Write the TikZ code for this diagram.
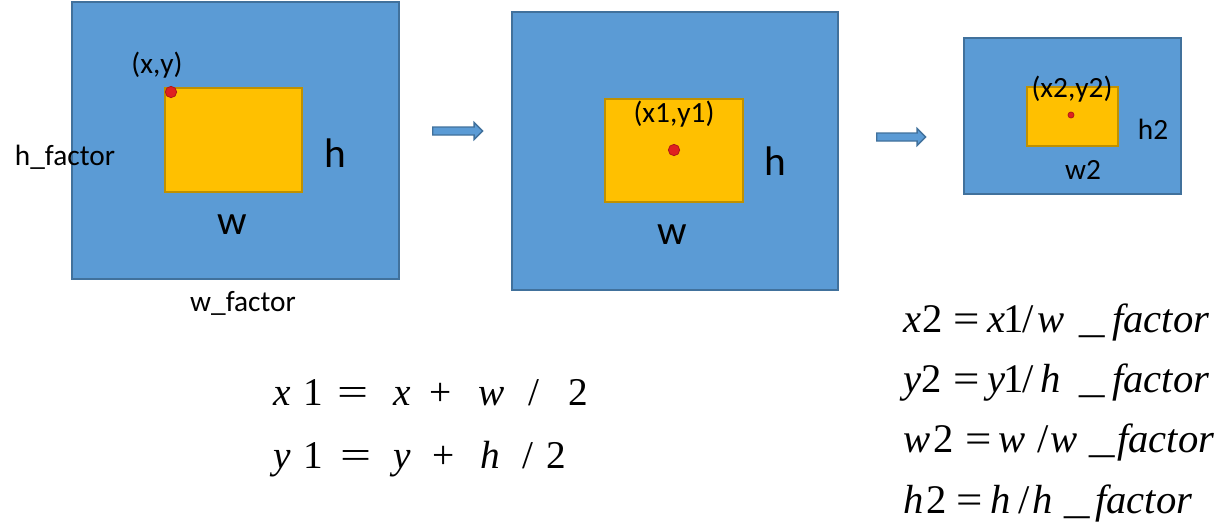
\documentclass[tikz,border=0pt]{standalone}
\usepackage{fontspec}
\usepackage{graphicx}
\setmainfont{Carlito}
\newfontfamily\tms{Liberation Serif}
\usetikzlibrary{shapes.arrows}
\definecolor{bfill}{HTML}{5B9BD5}
\definecolor{bline}{HTML}{41719C}
\definecolor{ofill}{HTML}{FFC000}
\definecolor{oline}{HTML}{BF9000}
\definecolor{dfill}{HTML}{E02020}
\definecolor{dline}{HTML}{B01818}
\newcommand\tk[2]{\makebox[#1pt][l]{#2}}
\newcommand\iv[1]{\itshape #1\upshape}
\newcommand\eqL{\scalebox{1.4}[1]{=}}
\newcommand\eqR{\scalebox{1.15}[1]{=}}
\newcommand\us{\scalebox{1.25}[1]{\_}}
\tikzset{
  bluebox/.style={draw=bline, fill=bfill, line width=1.4pt, anchor=north west, inner sep=0pt},
  orbox/.style={draw=oline, fill=ofill, line width=1.4pt, anchor=north west, inner sep=0pt},
  dotnode/.style={circle, draw=dline, fill=dfill, line width=0.6pt, inner sep=0pt, minimum size=#1},
  lbl/.style={font=\fontsize{22}{26}\selectfont, inner sep=0pt},
  biglbl/.style={font=\fontsize{31}{36}\selectfont, inner sep=0pt},
  arrowshape/.style={single arrow, draw=bline, fill=bfill, line width=1pt, inner sep=2.5pt,
     single arrow head extend=3.4pt, single arrow head indent=0pt, minimum height=37.5pt, anchor=west},
  formulaL/.style={font=\tms\fontsize{29.5}{36}\selectfont, inner sep=0pt, anchor=base west},
  formulaR/.style={font=\tms\fontsize{30.5}{38}\selectfont, inner sep=0pt, anchor=base west},
}
\begin{document}
\begin{tikzpicture}[x=0.75pt, y=-0.75pt]
\useasboundingbox (0,0) rectangle (1222,526);
% box 1
\node[bluebox, minimum width=245.25pt, minimum height=207.75pt] (b1) at (71,1) {};
\node[orbox, minimum width=102.75pt, minimum height=78pt] (o1) at (164,87) {};
\node[dotnode=8.5pt] (d1) at (171,92) {};
\node[lbl] (t1) at (157,65) {(x,y)};
\node[lbl] (hf) at (65,157) {h\_factor};
\node[biglbl] (h1) at (335,153) {h};
\node[biglbl] (w1) at (232,225) {w};
\node[lbl] (wf) at (243,303) {w\_factor};
% arrow 1
\node[arrowshape] (a1) at (432,131) {};
% box 2
\node[bluebox, minimum width=244.5pt, minimum height=208.5pt] (b2) at (511,11) {};
\node[orbox, minimum width=103.5pt, minimum height=77.25pt] (o2) at (604,98) {};
\node[dotnode=8.5pt] (d2) at (674,150) {};
\node[lbl] (t2) at (674,114) {(x1,y1)};
\node[biglbl] (h2) at (775,161) {h};
\node[biglbl] (w2) at (672,235) {w};
% arrow 2
\node[arrowshape, minimum height=36.75pt] (a2) at (876,137) {};
% box 3
\node[bluebox, minimum width=162.75pt, minimum height=117pt] (b3) at (963,37) {};
\node[orbox, minimum width=68.25pt, minimum height=44.25pt] (o3) at (1026,86) {};
\node[dotnode=4.5pt] (d3) at (1071,115) {};
\node[lbl] (t3) at (1072,89) {(x2,y2)};
\node[lbl] (hh) at (1153,129) {h2};
\node[lbl] (ww) at (1083,170) {w2};
% formulas left
\node[formulaL] (f1) at (273,405) {\tk{22.5}{\iv{x}}\tk{25.5}{1}\tk{42}{\eqL}\tk{27}{\iv{x}}\tk{36.75}{+}\tk{37.5}{\iv{w}}\tk{30}{/}2};
\node[formulaL] (f2) at (273,468) {\tk{22.5}{\iv{y}}\tk{27.75}{1}\tk{39.75}{\eqL}\tk{29.25}{\iv{y}}\tk{36}{+}\tk{31.5}{\iv{h}}\tk{18}{/}2};
% formulas right
\node[formulaR] (g1) at (903,332) {\tk{14.25}{\iv{x}}\tk{23.25}{2}\tk{25.5}{\eqR}\tk{12}{\iv{x}}\tk{14.25}{1}\tk{11.25}{/}\tk{31.5}{\iv{w}}\tk{24.75}{\us}\iv{factor}};
\node[formulaR] (g2) at (903,392) {\tk{13.5}{\iv{y}}\tk{24}{2}\tk{25.5}{\eqR}\tk{12}{\iv{y}}\tk{14.25}{1}\tk{13.5}{/}\tk{29.25}{\iv{h}}\tk{24.75}{\us}\iv{factor}};
\node[formulaR] (g3) at (903,452) {\tk{22.5}{\iv{w}}\tk{24}{2}\tk{24.75}{\eqR}\tk{29.25}{\iv{w}}\tk{9.75}{/}\tk{29.25}{\iv{w}}\tk{21}{\us}\iv{factor}};
\node[formulaR] (g4) at (903,513) {\tk{17.25}{\iv{h}}\tk{22.5}{2}\tk{25.5}{\eqR}\tk{21}{\iv{h}}\tk{10.5}{/}\tk{24}{\iv{h}}\tk{23.25}{\us}\iv{factor}};
\end{tikzpicture}
\end{document}
